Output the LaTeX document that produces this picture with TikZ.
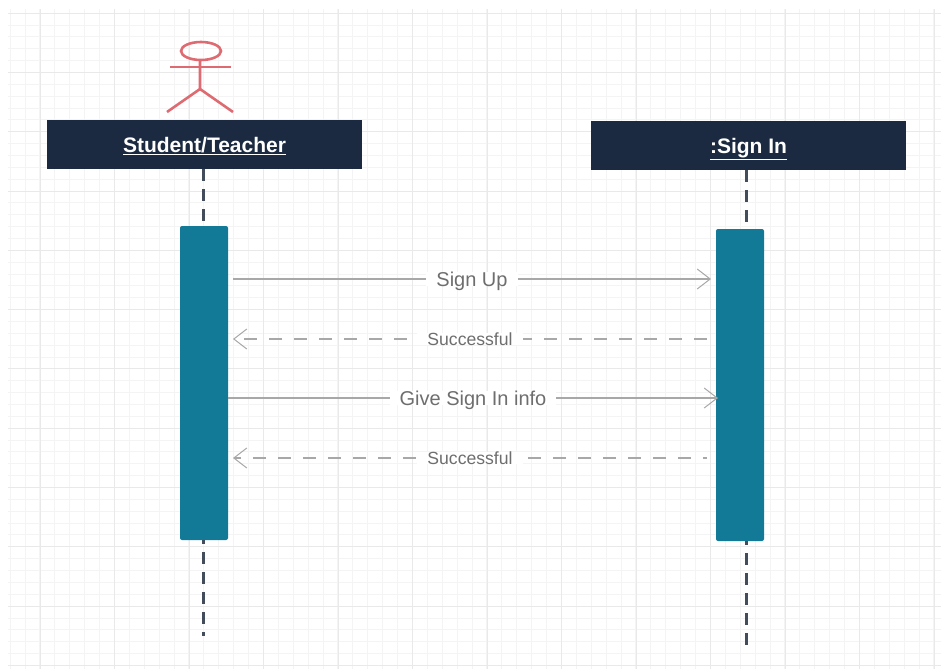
\documentclass[tikz,border=0pt]{standalone}
\usepackage{fontspec}
\setmainfont{Liberation Sans}
\usepackage{xcolor}
\definecolor{headerblue}{HTML}{1B2A41}
\definecolor{barteal}{HTML}{127A96}
\definecolor{actorred}{HTML}{DF6B72}
\definecolor{lifegray}{HTML}{434C5B}
\definecolor{msggray}{HTML}{A8A8A8}
\definecolor{textgray}{HTML}{6E6E6E}
\definecolor{gridminor}{HTML}{F4F4F4}
\definecolor{gridmajor}{HTML}{E9E9E9}
\usetikzlibrary{arrows.meta}
\tikzset{
    header/.style={fill=headerblue, text=white, minimum width=315pt, minimum height=49pt, inner sep=0pt, text height=15pt, text depth=0pt, font=\fontsize{21}{24}\selectfont\bfseries},
    activation/.style={fill=barteal, minimum width=48pt, rounded corners=2pt, inner sep=0pt},
    lifeline/.style={draw=lifegray, line width=3pt, dash pattern=on 12pt off 8pt},
    actorline/.style={draw=actorred, line width=2.6pt},
    msg/.style={draw=msggray, line width=1.1pt, -{Straight Barb[length=13pt,width=20pt,line width=1pt]}},
    reply/.style={msg, dash pattern=on 13pt off 12pt},
    msglabel/.style={fill=white, text=textgray, inner sep=0pt, inner xsep=10pt, text height=14pt, text depth=0pt, font=\fontsize{20}{22}\selectfont},
    oklabel/.style={msglabel, text height=12pt, font=\fontsize{17.6}{20}\selectfont},
}
\begin{document}
\begin{tikzpicture}[x=1pt,y=-1pt]
    \useasboundingbox (0,0) rectangle (941,669);
    % Background grid
    \foreach \i in {0,...,62} {
        \draw[gridminor, line width=0.7pt] (10+\i*14.9,9) -- (10+\i*14.9,669);
    }
    \foreach \i in {0,...,55} {
        \draw[gridminor, line width=0.7pt] (8,13+\i*11.86) -- (941,13+\i*11.86);
    }
    \foreach \i in {0,...,12} {
        \draw[gridmajor, line width=0.7pt] (40+\i*74.5,9) -- (40+\i*74.5,669);
    }
    \foreach \i in {0,...,11} {
        \draw[gridmajor, line width=0.7pt] (8,13+\i*59.3) -- (941,13+\i*59.3);
    }

    % Actor
    \draw[actorline] (201,51) ellipse [x radius=20, y radius=9];
    \draw[actorline] (170,67) -- (231,67);
    \draw[actorline] (200,60) -- (200,89) -- (167,112);
    \draw[actorline] (200,89) -- (233,112);

    % Headers
    \node[header] (student) at (204.5,144.5) {\underline{Student/Teacher}};
    \node[header, text height=17pt] (signin) at (748.5,145) {\underline{:Sign In}};

    % Activation bars
    \node[activation, minimum height=314pt] (studentbar) at (204,383) {};
    \node[activation, minimum height=312pt] (signinbar) at (740,385) {};

    % Lifelines
    \coordinate (studenttop) at (203,169);
    \coordinate (studentmid) at (203,222);
    \coordinate (studentlow) at (203,540);
    \coordinate (studentend) at (203,636);
    \coordinate (signintop) at (746,170);
    \coordinate (signinmid) at (746,223);
    \coordinate (signinlow) at (746,541);
    \coordinate (signinend) at (746,646);
    \draw[lifeline] (studenttop) -- (studentmid);
    \draw[lifeline, dash phase=8pt] (studentlow) -- (studentend);
    \draw[lifeline] (signintop) -- (signinmid);
    \draw[lifeline, dash phase=8pt] (signinlow) -- (signinend);

    % Messages
    \coordinate (signupa) at (233,279);
    \coordinate (signupb) at (711,279);
    \coordinate (okonea) at (707,339);
    \coordinate (okoneb) at (233,339);
    \coordinate (infoa) at (228,398);
    \coordinate (infob) at (718,398);
    \coordinate (oktwoa) at (707,458);
    \coordinate (oktwob) at (233,458);
    \draw[msg] (signupa) -- node[msglabel] (signuptext) {Sign Up} (signupb);
    \draw[reply] (okonea) -- node[oklabel] (okonetext) {Successful} (okoneb);
    \draw[msg] (infoa) -- node[msglabel] (infotext) {Give Sign In info} (infob);
    \draw[reply, dash phase=9pt] (oktwoa) -- node[oklabel] (oktwotext) {Successful} (oktwob);
\end{tikzpicture}
\end{document}
